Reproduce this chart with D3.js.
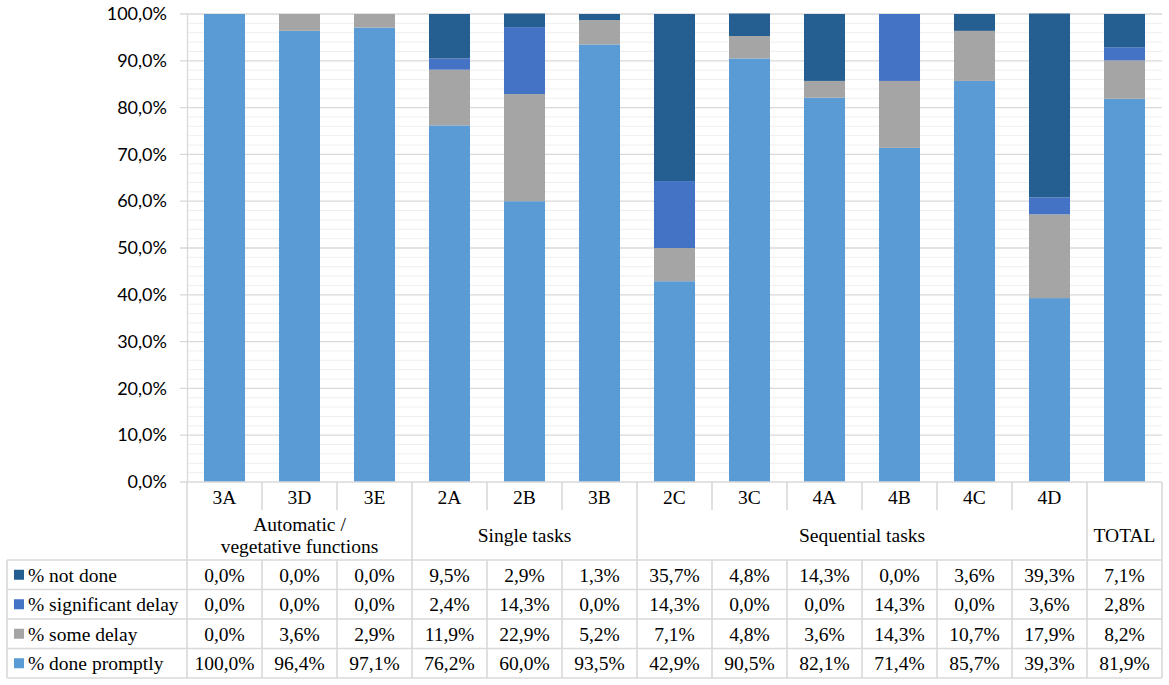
<!DOCTYPE html>
<html>
<head>
<meta charset="utf-8">
<script src="https://cdn.jsdelivr.net/npm/d3@7/dist/d3.min.js"></script>
<style>
html,body{margin:0;padding:0;background:#fff;}
svg{display:block;}
.serif{font-family:"Liberation Serif","Times New Roman",Tinos,serif;font-size:19.5px;fill:#000;}
.sans{font-family:Lato,"Open Sans",sans-serif;font-size:18px;fill:#000;}
</style>
</head>
<body>
<svg id="chart" width="1169" height="685"></svg>
<script>
const categories = ["3A","3D","3E","2A","2B","3B","2C","3C","4A","4B","4C","4D","TOTAL"];
const groups = [
  {label:["Automatic /","vegetative functions"], from:"3A", to:"3E"},
  {label:["Single tasks"], from:"2A", to:"3B"},
  {label:["Sequential tasks"], from:"2C", to:"4D"},
  {label:["TOTAL"], from:"TOTAL", to:"TOTAL"}
];
const seriesNames = ["% done promptly","% some delay","% significant delay","% not done"];
const donePromptly = [100.0,96.4,97.1,76.2,60.0,93.5,42.9,90.5,82.1,71.4,85.7,39.3,81.9];
const someDelay    = [0.0,3.6,2.9,11.9,22.9,5.2,7.1,4.8,3.6,14.3,10.7,17.9,8.2];
const sigDelay     = [0.0,0.0,0.0,2.4,14.3,0.0,14.3,0.0,0.0,14.3,0.0,3.6,2.8];
const notDone      = [0.0,0.0,0.0,9.5,2.9,1.3,35.7,4.8,14.3,0.0,3.6,39.3,7.1];
const yTicks = [0,10,20,30,40,50,60,70,80,90,100];
const colors = ["#5B9BD5","#A5A5A5","#4472C4","#255E91"];

(function(){
const svg = d3.select("#chart");
const pL = 187, pR = 1162, pT = 14, pB = 482;
const tableLeft = 7;
const rowCat = 510, rowGroup = 560, rowH = 29.5;
const gridColor = "#d9d9d9";

const x = d3.scaleBand().domain(categories).range([pL, pR]).paddingInner(0.453).paddingOuter(0.2265);
const y = d3.scaleLinear().domain([0,100]).range([pB, pT]);

const minor = d3.range(0, 101, 2).filter(v => v % 10 !== 0);
svg.append("g").selectAll("line").data(minor).join("line")
  .attr("x1", pL).attr("x2", pR)
  .attr("y1", d => y(d)).attr("y2", d => y(d))
  .attr("stroke", "#efefef").attr("stroke-width", 1);
svg.append("g").selectAll("line").data(yTicks.filter(v=>v>0)).join("line")
  .attr("x1", 180).attr("x2", pR)
  .attr("y1", d => y(d)).attr("y2", d => y(d))
  .attr("stroke", gridColor).attr("stroke-width", 1.3);

const yAxis = d3.axisLeft(y).tickValues(yTicks).tickSize(0).tickPadding(20)
  .tickFormat(d => d3.format(".1f")(d).replace(".", ",") + "%");
const ga = svg.append("g").attr("transform", `translate(${pL},0)`).call(yAxis);
ga.attr("font-family", null).attr("font-size", null);
ga.select(".domain").attr("stroke", gridColor).attr("stroke-width", 1.3);
ga.selectAll("text").attr("class", "sans").attr("fill", null);

const rows = categories.map((c,i) => ({cat:c, s0:donePromptly[i], s1:someDelay[i], s2:sigDelay[i], s3:notDone[i]}));
const stack = d3.stack().keys(["s0","s1","s2","s3"])(rows);
svg.append("g").selectAll("g").data(stack).join("g")
  .attr("fill", (d,i) => colors[i])
  .selectAll("rect").data(d => d.filter(p => p[1]-p[0] > 0)).join("rect")
  .attr("x", d => x(d.data.cat))
  .attr("width", x.bandwidth())
  .attr("y", d => y(d[1]))
  .attr("height", d => y(d[0]) - y(d[1]));

const T = svg.append("g").attr("stroke", gridColor).attr("stroke-width", 1.6).attr("fill", "none");
const step = x.step();
const colLeft = c => x(c) - (step - x.bandwidth())/2;
T.append("line").attr("x1", 180).attr("x2", pR).attr("y1", pB).attr("y2", pB);
categories.forEach((c,i) => {
  if (i === 0) return;
  const xx = colLeft(c);
  const isGroupStart = groups.some(g => g.from === c);
  const yEnd = isGroupStart ? rowGroup : rowCat;
  T.append("line").attr("x1", xx).attr("x2", xx).attr("y1", pB).attr("y2", yEnd);
});
T.append("line").attr("x1", pL).attr("x2", pL).attr("y1", pB).attr("y2", rowGroup);
T.append("line").attr("x1", pR).attr("x2", pR).attr("y1", pB).attr("y2", rowGroup);
for (let r = 0; r <= 4; r++) {
  const yy = rowGroup + r*rowH;
  T.append("line").attr("x1", tableLeft).attr("x2", pR).attr("y1", yy).attr("y2", yy);
}
const vxs = [tableLeft, pL].concat(categories.slice(1).map(colLeft)).concat([pR]);
vxs.forEach(xx => T.append("line").attr("x1", xx).attr("x2", xx).attr("y1", rowGroup).attr("y2", rowGroup + 4*rowH));

svg.append("g").selectAll("text").data(categories.filter(c => c !== "TOTAL")).join("text")
  .attr("class", "serif")
  .attr("x", d => x(d) + x.bandwidth()/2).attr("y", 503.5)
  .attr("text-anchor", "middle")
  .text(d => d);

groups.forEach(g => {
  const x0 = colLeft(g.from), x1 = colLeft(g.to) + step;
  const cx = (x0 + x1)/2;
  const cy = 542;
  const n = g.label.length;
  g.label.forEach((t, k) => {
    svg.append("text").attr("class", "serif").attr("x", cx).attr("y", cy + (k - (n-1)/2) * 21.5)
      .attr("text-anchor", "middle")
      .text(t);
  });
});

const tableSeries = [
  {name: seriesNames[3], vals: notDone, color: colors[3]},
  {name: seriesNames[2], vals: sigDelay, color: colors[2]},
  {name: seriesNames[1], vals: someDelay, color: colors[1]},
  {name: seriesNames[0], vals: donePromptly, color: colors[0]}
];
const fmt = v => d3.format(".1f")(v).replace(".", ",") + "%";
tableSeries.forEach((s, r) => {
  const yc = rowGroup + r*rowH + rowH/2;
  svg.append("rect").attr("x", 14).attr("y", yc - 5).attr("width", 10).attr("height", 10).attr("fill", s.color);
  svg.append("text").attr("class", "serif").attr("x", 28).attr("y", yc + 7).text(s.name);
  svg.append("g").selectAll("text").data(s.vals).join("text")
    .attr("class", "serif")
    .attr("x", (d,i) => x(categories[i]) + x.bandwidth()/2).attr("y", yc + 7)
    .attr("text-anchor", "middle")
    .text(d => fmt(d));
});
})();
</script>
</body>
</html>
